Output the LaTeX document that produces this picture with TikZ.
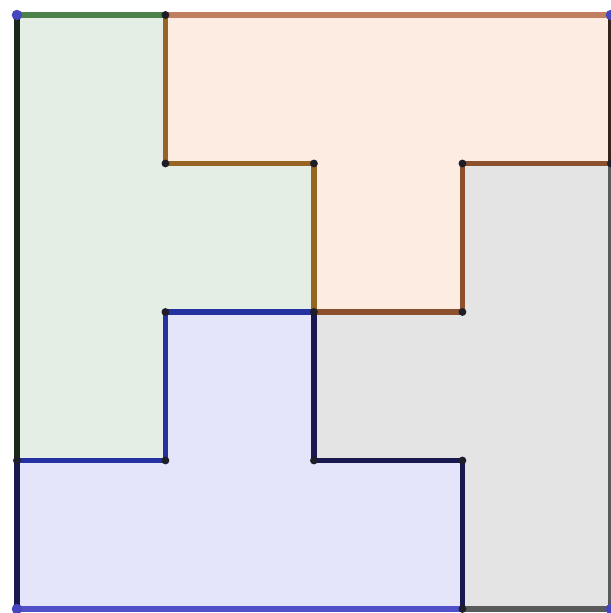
\documentclass[tikz,border=0pt]{standalone}
\usepackage{tikz}

\definecolor{fillgreen}{RGB}{228,238,228}
\definecolor{fillorange}{RGB}{252,236,226}
\definecolor{fillgray}{RGB}{228,228,228}
\definecolor{fillblue}{RGB}{228,228,250}
\definecolor{edgegreen}{RGB}{74,130,74}
\definecolor{edgedark}{RGB}{25,40,25}
\definecolor{edgenavy}{RGB}{25,25,80}
\definecolor{edgetan}{RGB}{192,128,96}
\definecolor{edgebrowndark}{RGB}{55,35,25}
\definecolor{edgegray}{RGB}{90,90,90}
\definecolor{edgeochre}{RGB}{150,100,35}
\definecolor{edgebrown}{RGB}{140,80,45}
\definecolor{edgeblue}{RGB}{35,50,160}
\definecolor{edgelightblue}{RGB}{80,80,200}
\definecolor{dotdark}{RGB}{30,30,40}
\definecolor{dotblue}{RGB}{70,70,190}

\tikzset{
  side/.style={line width=1.1pt, line cap=round},
}

\begin{document}
\begin{tikzpicture}[scale=1]
\useasboundingbox (-0.114,-0.027) rectangle (4.0,4.101);
\foreach \i in {0,...,4}{\foreach \j in {0,...,4}{\coordinate (P\i\j) at (\i,\j);}}
% the four pieces
\fill[fillgreen] (P04)--(P14)--(P13)--(P23)--(P22)--(P12)--(P11)--(P01)--cycle;
\fill[fillorange] (P14)--(P44)--(P43)--(P33)--(P32)--(P22)--(P23)--(P13)--cycle;
\fill[fillgray] (P43)--(P40)--(P30)--(P31)--(P21)--(P22)--(P32)--(P33)--cycle;
\fill[fillblue] (P01)--(P11)--(P12)--(P22)--(P21)--(P31)--(P30)--(P00)--cycle;
% sides
\draw[side,edgegreen] (P04)--(P14);
\draw[side,edgedark] (P04)--(P01);
\draw[side,edgenavy] (P01)--(P00);
\draw[side,edgetan] (P14)--(P44);
\draw[side,edgebrowndark] (P44)--(P43);
\draw[side,edgegray] (P43)--(P40);
\draw[side,edgeochre] (P14)--(P13)--(P23)--(P22);
\draw[side,edgebrown] (P22)--(P32)--(P33)--(P43);
\draw[side,edgeblue] (P22)--(P12)--(P11)--(P01);
\draw[side,edgenavy] (P22)--(P21)--(P31)--(P30);
\draw[side,edgelightblue] (P00)--(P30);
\draw[side,edgegray] (P30)--(P40);
% points
\foreach \p in {14,13,23,33,43,22,32,12,01,11,21,31,30}{\fill[dotdark] (P\p) circle (0.75pt);}
\foreach \p in {04,44,00,40}{\fill[dotblue] (P\p) circle (1pt);}
\end{tikzpicture}
\end{document}
